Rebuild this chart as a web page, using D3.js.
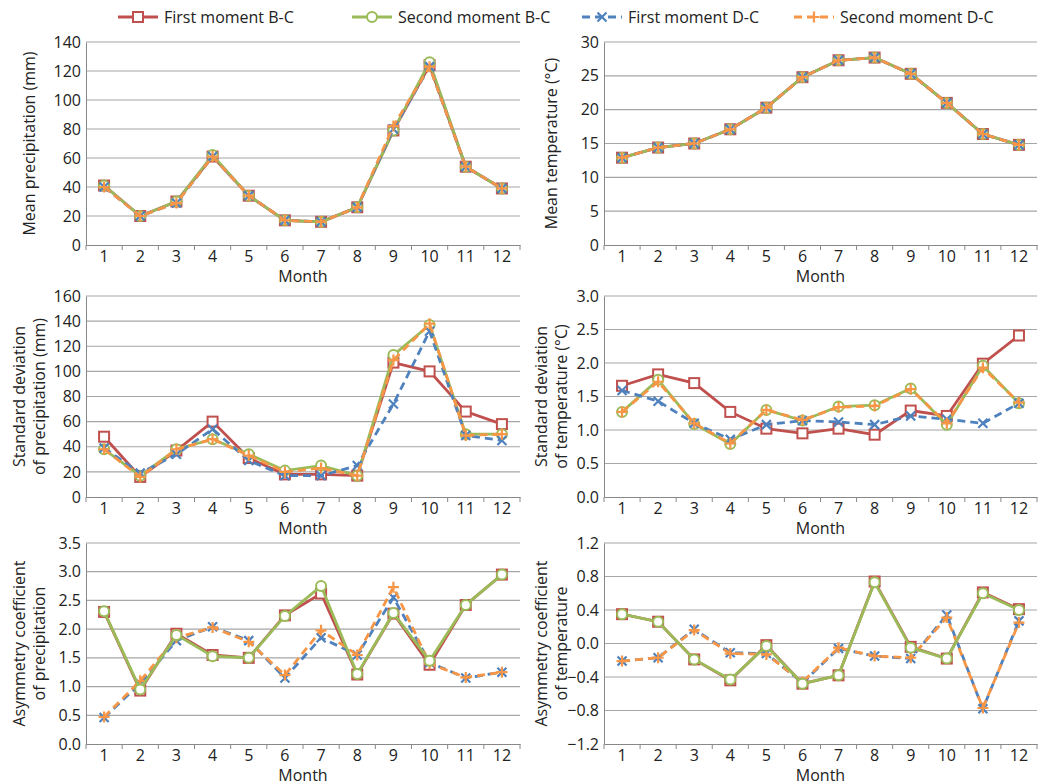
<!DOCTYPE html>
<meta charset="utf-8">
<style>
body { margin: 0; background: #fff; font-family: "Open Sans", sans-serif; }
text { font-family: "Open Sans", sans-serif; fill: #222; }
.grid line { stroke: #a6a6a6; stroke-width: 1.2; }
.axis path, .axis line { stroke: #888; }
</style>
<body>
<script src="https://cdn.jsdelivr.net/npm/d3@7"></script>
<script>
var months = [1, 2, 3, 4, 5, 6, 7, 8, 9, 10, 11, 12];
var seriesNames = ["First moment B-C", "Second moment B-C", "First moment D-C", "Second moment D-C"];
var colors = ["#c0504d", "#9bbb59", "#4f81bd", "#f79646"];

var meanPrecip = [
  [41, 20, 30, 61, 34, 17, 16, 26, 79, 124, 54, 39],
  [41, 20, 30, 62, 34, 17, 16, 26, 79, 126, 54, 39],
  [40, 20, 29, 61, 34, 17, 16, 26, 80, 123, 54, 39],
  [40, 20, 29, 61, 34, 17, 16, 26, 82, 123, 54, 39]];
var meanTemp = [
  [12.9, 14.4, 15.0, 17.1, 20.3, 24.8, 27.3, 27.7, 25.3, 21.0, 16.4, 14.8],
  [12.9, 14.4, 15.0, 17.1, 20.3, 24.8, 27.3, 27.7, 25.3, 21.0, 16.4, 14.8],
  [12.9, 14.4, 15.0, 17.1, 20.3, 24.8, 27.3, 27.7, 25.3, 21.0, 16.4, 14.8],
  [12.9, 14.4, 15.0, 17.1, 20.3, 24.8, 27.3, 27.7, 25.3, 21.0, 16.4, 14.8]];
var sdPrecip = [
  [48, 16, 37, 60, 31, 18, 18, 17, 107, 100, 68, 58],
  [38, 17, 38, 46, 34, 21, 25, 17, 113, 137, 50, 50],
  [39, 19, 34, 54, 29, 17, 17, 25, 74, 132, 49, 45],
  [38, 16, 38, 46, 33, 20, 23, 17, 109, 138, 49, 50]];
var sdTemp = [
  [1.66, 1.83, 1.70, 1.27, 1.02, 0.95, 1.02, 0.93, 1.29, 1.21, 1.99, 2.41],
  [1.27, 1.75, 1.09, 0.79, 1.30, 1.14, 1.35, 1.37, 1.62, 1.08, 1.96, 1.40],
  [1.59, 1.43, 1.10, 0.86, 1.08, 1.14, 1.12, 1.08, 1.21, 1.16, 1.10, 1.40],
  [1.27, 1.72, 1.10, 0.80, 1.30, 1.15, 1.34, 1.36, 1.61, 1.10, 1.93, 1.41]];
var asymPrecip = [
  [2.30, 0.93, 1.92, 1.55, 1.50, 2.24, 2.62, 1.21, 2.27, 1.38, 2.42, 2.95],
  [2.31, 0.95, 1.90, 1.53, 1.50, 2.23, 2.75, 1.22, 2.28, 1.45, 2.42, 2.95],
  [0.46, 1.05, 1.80, 2.04, 1.80, 1.15, 1.85, 1.55, 2.55, 1.42, 1.15, 1.25],
  [0.47, 1.10, 1.85, 2.03, 1.78, 1.20, 1.98, 1.55, 2.73, 1.40, 1.16, 1.25]];
var asymTemp = [
  [0.35, 0.26, -0.19, -0.44, -0.02, -0.48, -0.38, 0.74, -0.04, -0.18, 0.61, 0.41],
  [0.35, 0.26, -0.19, -0.43, -0.03, -0.48, -0.38, 0.73, -0.05, -0.18, 0.60, 0.40],
  [-0.21, -0.17, 0.17, -0.11, -0.12, -0.47, -0.06, -0.15, -0.18, 0.34, -0.78, 0.27],
  [-0.21, -0.17, 0.16, -0.12, -0.13, -0.46, -0.05, -0.15, -0.17, 0.31, -0.77, 0.25]];

var panels = [
  {data: meanPrecip, ticks: [0, 20, 40, 60, 80, 100, 120, 140], fmt: "d", label: ["Mean precipitation (mm)"], col: 0, row: 0, order: [0, 1, 2, 3]},
  {data: meanTemp, ticks: [0, 5, 10, 15, 20, 25, 30], fmt: "d", label: ["Mean temperature (°C)"], col: 1, row: 0, order: [0, 1, 2, 3]},
  {data: sdPrecip, ticks: [0, 20, 40, 60, 80, 100, 120, 140, 160], fmt: "d", label: ["Standard deviation", "of precipitation (mm)"], col: 0, row: 1, order: [0, 1, 2, 3]},
  {data: sdTemp, ticks: [0, 0.5, 1, 1.5, 2, 2.5, 3], fmt: ".1f", label: ["Standard deviation", "of temperature (°C)"], col: 1, row: 1, order: [0, 1, 2, 3]},
  {data: asymPrecip, ticks: [0, 0.5, 1, 1.5, 2, 2.5, 3, 3.5], fmt: ".1f", label: ["Asymmetry coefficient", "of precipitation"], col: 0, row: 2, order: [0, 2, 3, 1]},
  {data: asymTemp, ticks: [-1.2, -0.8, -0.4, 0, 0.4, 0.8, 1.2], fmt: ".1f", label: ["Asymmetry coefficient", "of temperature"], col: 1, row: 2, order: [0, 2, 3, 1]}
];

var width = 1041, height = 784;
var svg = d3.select("body").append("svg").attr("width", width).attr("height", height);

var colX = [[86, 520], [604, 1037]];
var rowY = [[42, 245], [296, 497], [543, 744]];

function marker(g, type, color) {
  if (type === 0) g.append("rect").attr("x", -5).attr("y", -5).attr("width", 10).attr("height", 10)
    .attr("fill", "#fff").attr("stroke", color).attr("stroke-width", 2);
  else if (type === 1) g.append("circle").attr("r", 5).attr("fill", "#fff").attr("stroke", color).attr("stroke-width", 2);
  else if (type === 2) g.append("path").attr("d", "M-4.5,-4.5L4.5,4.5M-4.5,4.5L4.5,-4.5").attr("stroke", color).attr("stroke-width", 2.2);
  else g.append("path").attr("d", "M0,-5.5V5.5M-5.5,0H5.5").attr("stroke", color).attr("stroke-width", 2.2);
}

panels.forEach(function(p) {
  var x0 = colX[p.col][0], x1 = colX[p.col][1], y0 = rowY[p.row][0], y1 = rowY[p.row][1];
  var x = d3.scaleBand().domain(months).range([x0, x1]);
  var y = d3.scaleLinear().domain(d3.extent(p.ticks)).range([y1, y0]);
  var g = svg.append("g");

  g.append("g").attr("class", "grid").selectAll("line").data(p.ticks.filter(function(t) { return t !== y.domain()[0]; }))
    .enter().append("line").attr("x1", x0).attr("x2", x1)
    .attr("y1", function(d) { return y(d); }).attr("y2", function(d) { return y(d); });

  var ya = g.append("g").attr("class", "axis").attr("transform", "translate(" + x0 + ",0)")
    .call(d3.axisLeft(y).tickValues(p.ticks).tickSize(0).tickPadding(5).tickFormat(d3.format(p.fmt)));
  ya.selectAll("text").style("font-size", "16px");

  var zeroY = p.row === 2 && p.col === 1 ? y1 : y(Math.max(0, y.domain()[0]));
  var xa = g.append("g").attr("class", "axis").attr("transform", "translate(0," + zeroY + ")")
    .call(d3.axisBottom(x).tickSize(0).tickPadding(6));
  xa.selectAll("text").style("font-size", "16px");
  g.selectAll(".btick").data(d3.range(13)).enter().append("line")
    .attr("x1", function(i) { return x0 + i * x.step(); }).attr("x2", function(i) { return x0 + i * x.step(); })
    .attr("y1", zeroY).attr("y2", zeroY + 5).attr("stroke", "#888");

  g.append("text").attr("x", (x0 + x1) / 2).attr("y", y1 + 37).attr("text-anchor", "middle")
    .style("font-size", "16px").text("Month");

  var lx = p.col === 0 ? 30 : 552;
  p.label.forEach(function(l, i) {
    var off = p.label.length === 1 ? 0 : (i === 0 ? -10 : 10);
    g.append("text").attr("transform", "translate(" + (lx + off + 5) + "," + ((y0 + y1) / 2) + ") rotate(-90)")
      .attr("text-anchor", "middle").style("font-size", "16px").text(l);
  });

  var line = d3.line().x(function(d, i) { return x(months[i]) + x.bandwidth() / 2; }).y(function(d) { return y(d); });
  p.order.forEach(function(s) {
    var sg = g.append("g");
    sg.append("path").datum(p.data[s]).attr("d", line).attr("fill", "none")
      .attr("stroke", colors[s]).attr("stroke-width", 2.8)
      .attr("stroke-dasharray", s >= 2 ? "8,5" : null);
    p.data[s].forEach(function(v, i) {
      marker(sg.append("g").attr("transform", "translate(" + (x(months[i]) + x.bandwidth() / 2) + "," + y(v) + ")"), s, colors[s]);
    });
  });
});

var legendX = [118, 352, 582, 794];
seriesNames.forEach(function(n, s) {
  var lg = svg.append("g").attr("transform", "translate(" + legendX[s] + ",17)");
  lg.append("line").attr("x1", 0).attr("x2", 40).attr("stroke", colors[s]).attr("stroke-width", 2.8)
    .attr("stroke-dasharray", s >= 2 ? "8,5" : null);
  marker(lg.append("g").attr("transform", "translate(20,0)"), s, colors[s]);
  lg.append("text").attr("x", 46).attr("y", 6).style("font-size", "16px").text(n);
});
</script>
